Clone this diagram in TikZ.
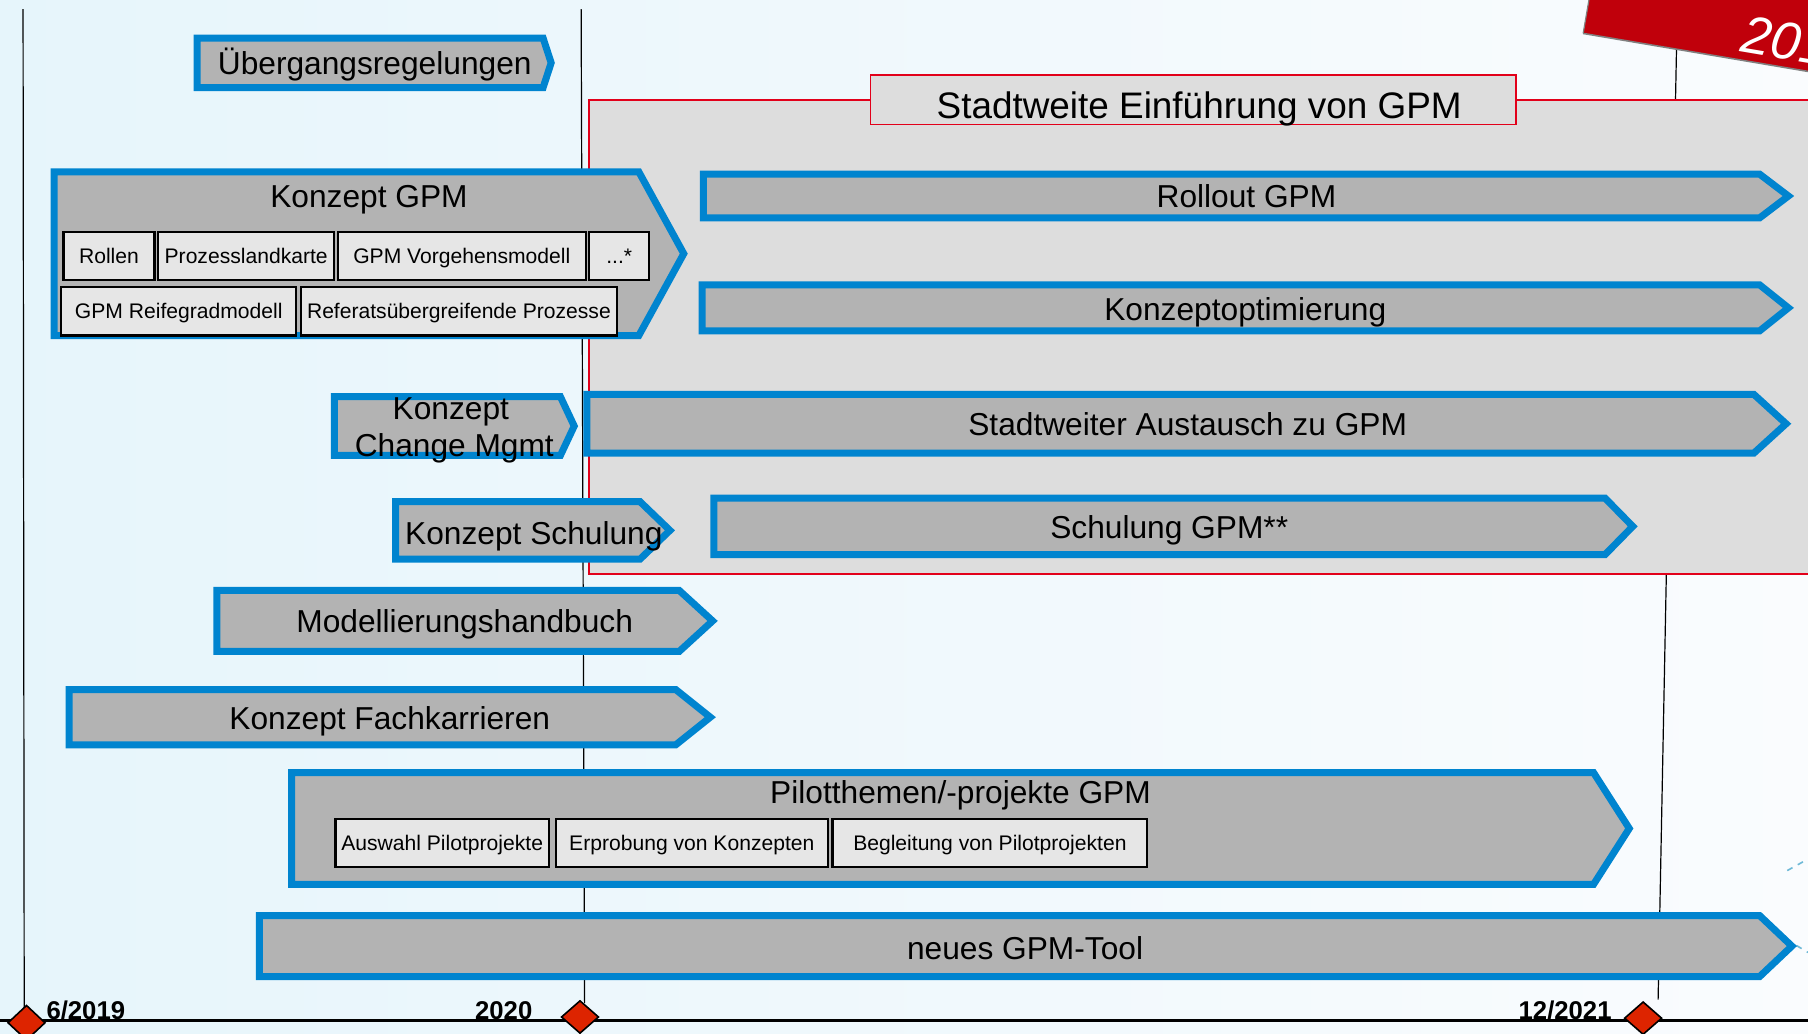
\documentclass[tikz,border=0pt]{standalone}
\usepackage{fontspec}
\setmainfont{Liberation Sans}
\definecolor{gpmblue}{RGB}{0,132,207}
\definecolor{gpmgrey}{RGB}{179,179,179}
\definecolor{subfill}{RGB}{230,230,230}
\definecolor{regfill}{RGB}{221,221,221}
\definecolor{regred}{RGB}{226,0,26}
\definecolor{msred}{RGB}{221,36,0}
\definecolor{banred}{RGB}{192,0,11}
\definecolor{bgleft}{RGB}{230,245,251}
\definecolor{bgright}{RGB}{250,252,254}
\definecolor{dashblue}{RGB}{110,185,215}
\newcommand\chevpath[5]{\draw[chev] ({#1+3},{#2+3}) -- ({#4-1},{#2+3}) -- ({#5-4},{(#2+#3)/2}) -- ({#4-1},{#3-3}) -- ({#1+3},{#3-3}) -- cycle;}
\newcommand\subbox[6]{\draw[sub] (#2,#3) rectangle (#4,#5); \node[stxt] (#1) at ({(#2+#4)/2},{(#3+#5)/2}) {#6};}
\newcommand\msdiamond[3]{\draw[ms] ({#1-16},#2) -- (#1,{#2-#3}) -- ({#1+16},#2) -- (#1,{#2+#3}) -- cycle;}
\begin{document}
\begin{tikzpicture}[x=0.5765pt,y=-0.5765pt,
  chev/.style={draw=gpmblue, line width=3.5pt, fill=gpmgrey, line join=miter},
  sub/.style={draw=black, line width=1.1pt, fill=subfill},
  mtxt/.style={font=\fontsize{15.85}{19}\selectfont, inner sep=0pt, text height=11.35pt, text depth=0pt},
  stxt/.style={font=\fontsize{10.55}{12.5}\selectfont, inner sep=0pt, text height=7.55pt, text depth=0pt},
  ttxt/.style={font=\fontsize{18.45}{22}\selectfont, inner sep=0pt, text height=13.2pt, text depth=0pt},
  lab/.style={font=\fontsize{12.85}{15}\selectfont\bfseries, inner sep=0pt},
  vline/.style={draw=black, line width=0.6pt},
  ms/.style={draw=black, line width=0.8pt, fill=msred, line join=miter}]
\useasboundingbox (0,0) rectangle (1568,896);
\clip (0,0) rectangle (1568,896);
% background
\shade[left color=bgleft, right color=bgright] (0,0) rectangle (1568,896);
\draw[dashblue, dashed, line width=0.8pt] (1550,755) -- (1568,745);
\draw[dashblue, dashed, line width=0.8pt] (1558,820) -- (1568,826);
% time lines
\draw[vline] (20,8) -- (21,878);
\draw[vline] (504,8) -- (507,870);
\draw[vline] (1454,40) -- (1438,867);
% region
\draw[regred, line width=0.9pt, fill=regfill] (511,87) rectangle (1580,498);
\draw[regred, line width=0.9pt, fill=regfill] (755,65) rectangle (1315,108);
\node[ttxt] (title) at (1040,91) {Stadtweite Einführung von GPM};
% chevrons
\chevpath{168}{30}{79}{472}{482}
\node[mtxt] (ueb) at (325,55) {Übergangsregelungen};
\chevpath{44}{146}{294}{555}{597}
\node[mtxt] (kgpm) at (320,170) {Konzept GPM};
\subbox{rollen}{55}{201}{134}{243}{Rollen}
\subbox{pland}{137}{201}{290}{243}{Prozesslandkarte}
\subbox{vorg}{293}{201}{508}{243}{GPM Vorgehensmodell}
\subbox{more}{511}{201}{563}{243}{...*}
\subbox{reife}{53}{249}{257}{291}{GPM Reifegradmodell}
\subbox{refer}{261}{249}{535}{291}{Referatsübergreifende Prozesse}
\chevpath{607}{148}{192}{1527}{1555}
\node[mtxt] (roll) at (1081,170) {Rollout GPM};
\chevpath{606}{244}{290}{1527}{1555}
\node[mtxt] (kopt) at (1080,268) {Konzeptoptimierung};
\chevpath{287}{341}{398}{487}{502}
\node[mtxt] (cm1) at (391,354) {Konzept};
\node[mtxt] (cm2) at (394,386) {Change Mgmt};
\chevpath{506}{339}{396}{1522}{1553}
\node[mtxt] (aust) at (1030,368) {Stadtweiter Austausch zu GPM};
\chevpath{340}{432}{488}{556}{585}
\node[mtxt] (ksch) at (463,462) {Konzept Schulung};
\chevpath{616}{429}{484}{1393}{1420}
\node[mtxt] (sgpm) at (1014,457) {Schulung GPM**};
\chevpath{185}{509}{568}{590}{622}
\node[mtxt] (mhb) at (403,539) {Modellierungshandbuch};
\chevpath{57}{595}{649}{587}{620}
\node[mtxt] (fach) at (338,623) {Konzept Fachkarrieren};
\chevpath{250}{667}{770}{1383}{1417}
\node[mtxt] (pilot) at (833,687) {Pilotthemen/-projekte GPM};
\subbox{ausw}{291}{710}{476}{752}{Auswahl Pilotprojekte}
\subbox{erpr}{482}{710}{718}{752}{Erprobung von Konzepten}
\subbox{begl}{722}{710}{995}{752}{Begleitung von Pilotprojekten}
\chevpath{222}{791}{850}{1527}{1558}
\node[mtxt] (tool) at (889,822) {neues GPM-Tool};
% axis
\draw[black, line width=1.5pt] (0,885) -- (1568,885);
\msdiamond{23}{887}{15}
\msdiamond{503}{882}{14}
\msdiamond{1425}{883}{14}
\node[lab, anchor=base west] (l1) at (40,884) {6/2019};
\node[lab, anchor=base east] (l2) at (462,884) {2020};
\node[lab, anchor=base east] (l3) at (1398,884) {12/2021};
% banner
\fill[banred] (1373,29) -- (1669,79) -- (1686,-20) -- (1390,-70) -- cycle;
\draw[gray, line width=0.8pt] (1373,29) -- (1669,79);
\draw[gray, line width=0.6pt] (1373,29) -- (1378,0);
\node[font=\fontsize{26.5}{30}\selectfont\itshape, text=white, inner sep=0pt, anchor=base west, rotate=-9.6] (year) at (1508,45) {2019};
\end{tikzpicture}
\end{document}
